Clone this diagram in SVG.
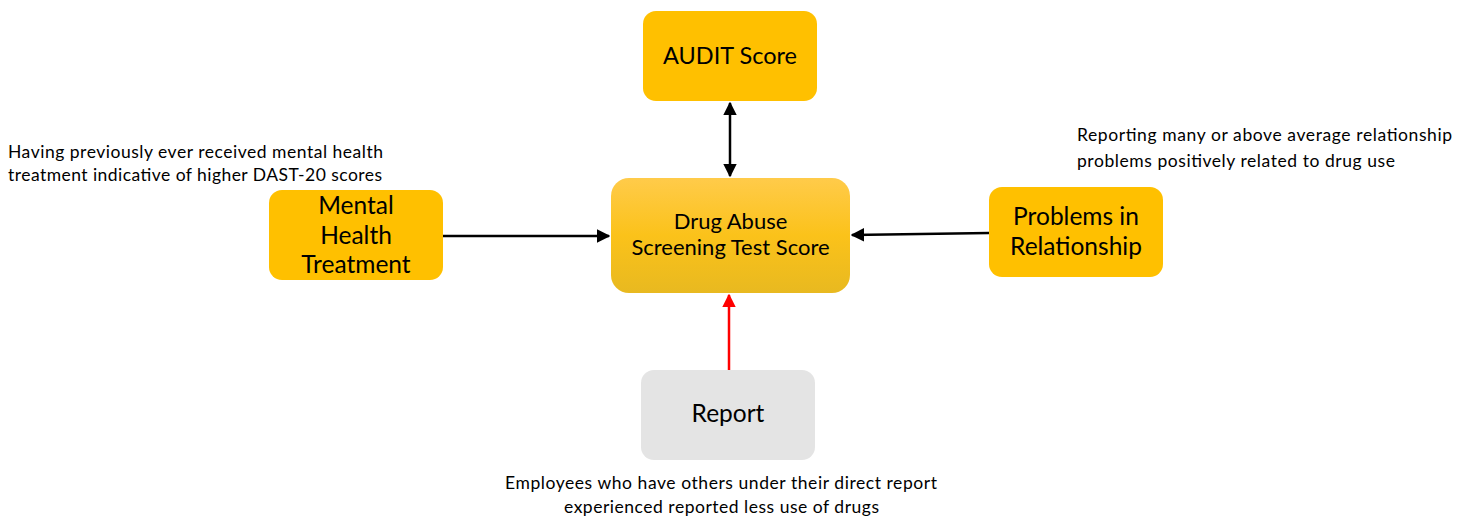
<svg xmlns="http://www.w3.org/2000/svg" width="1471" height="517" viewBox="0 0 1471 517">
<defs>
<linearGradient id="g" x1="0" y1="0" x2="0" y2="1">
<stop offset="0" stop-color="#FFCB4A"/>
<stop offset="0.5" stop-color="#FBC21A"/>
<stop offset="1" stop-color="#E8B920"/>
</linearGradient>
<marker id="ab" viewBox="0 0 10 10" refX="9" refY="5" markerWidth="5.5" markerHeight="5.5" orient="auto-start-reverse" markerUnits="strokeWidth">
<path d="M0,0 L10,5 L0,10 z" fill="#000"/>
</marker>
<marker id="ar" viewBox="0 0 10 10" refX="9" refY="5" markerWidth="5.5" markerHeight="5.5" orient="auto" markerUnits="strokeWidth">
<path d="M0,0 L10,5 L0,10 z" fill="#FF0000"/>
</marker>
</defs>
<style>
.n{fill:#FFC000}
.t{font-family:Lato,"Open Sans",sans-serif;fill:#000;text-anchor:middle}
.big{font-size:24.5px}
.mid{font-size:22px}
.a{font-family:Lato,"Open Sans",sans-serif;fill:#000;font-size:17.5px}
.c{stroke:#000;stroke-width:2.5;fill:none}
</style>
<rect width="1471" height="517" fill="#fff"/>
<g id="connectors">
<line class="c" x1="730" y1="103" x2="730" y2="176" marker-start="url(#ab)" marker-end="url(#ab)"/>
<line class="c" x1="443" y1="236" x2="609" y2="236" marker-end="url(#ab)"/>
<line class="c" x1="989" y1="233" x2="852" y2="235" marker-end="url(#ab)"/>
<line x1="729" y1="370" x2="729" y2="295" stroke="#FF0000" stroke-width="2.5" marker-end="url(#ar)"/>
</g>
<g id="audit">
<rect class="n" x="643" y="11" width="174" height="90" rx="13"/>
<text class="t" x="730" y="64" font-size="23.5">AUDIT Score</text>
</g>
<g id="dast">
<rect x="611" y="178" width="239" height="115" rx="18" fill="url(#g)"/>
<text class="t mid" x="730.5" y="229">Drug Abuse</text>
<text class="t mid" x="730.5" y="255">Screening Test Score</text>
</g>
<g id="mental">
<rect class="n" x="269" y="190" width="174" height="90" rx="13"/>
<text class="t big" x="356" y="214">Mental</text>
<text class="t big" x="356" y="244">Health</text>
<text class="t big" x="356" y="273">Treatment</text>
</g>
<g id="problems">
<rect class="n" x="989" y="187" width="174" height="90" rx="13"/>
<text class="t big" x="1076" y="225">Problems in</text>
<text class="t big" x="1076" y="255">Relationship</text>
</g>
<g id="report">
<rect x="641" y="370" width="174" height="90" rx="13" fill="#E4E4E4"/>
<text class="t big" x="728" y="422">Report</text>
</g>
<g id="annotations">
<text class="a" x="8" y="158" textLength="375" lengthAdjust="spacing">Having previously ever received mental health</text>
<text class="a" x="8" y="181" textLength="374" lengthAdjust="spacing">treatment indicative of higher DAST-20 scores</text>
<text class="a" x="1077" y="141" textLength="375" lengthAdjust="spacing">Reporting many or above average relationship</text>
<text class="a" x="1077" y="167" textLength="318" lengthAdjust="spacing">problems positively related to drug use</text>
<text class="a" x="505" y="489" textLength="432" lengthAdjust="spacing">Employees who have others under their direct report</text>
<text class="a" x="564" y="513" textLength="315" lengthAdjust="spacing">experienced reported less use of drugs</text>
</g>
</svg>
